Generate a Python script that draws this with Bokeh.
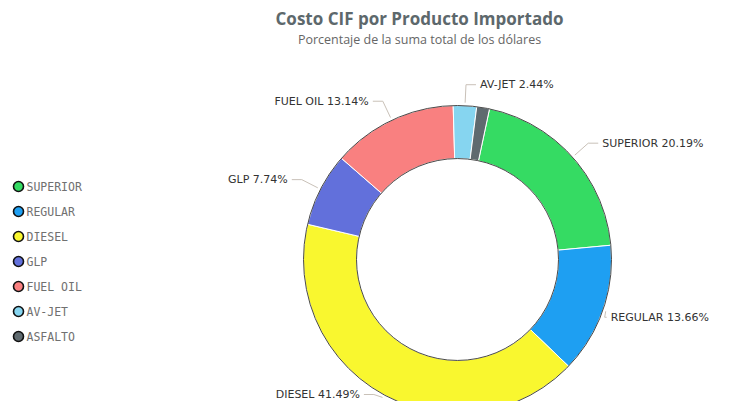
import math
from bokeh.plotting import figure
from bokeh.models import Range1d, ColumnDataSource
from bokeh.core.properties import value
from bokeh.embed import file_html
from bokeh.resources import INLINE

# ---- data ----
categories = ["SUPERIOR", "REGULAR", "DIESEL", "GLP", "FUEL OIL", "AV-JET", "ASFALTO"]
percentages = [20.19, 13.66, 41.49, 7.74, 13.14, 2.44, 1.34]
colors = ["#35db63", "#1e9ff2", "#f9f72f", "#6270db", "#f98080", "#86d5f0", "#5f6a6f"]
show_label = [True, True, True, True, True, True, False]
title_text = "Costo CIF por Producto Importado"
subtitle_text = "Porcentaje de la suma total de los dólares"

# ---- layout ----
W, H = 714, 401
CX, CY = 457, H - 259
R_OUT, R_IN = 154, 101
START_DEG = 12.0
R_CONN0, R_ELBOW = 157, 175
H_SEG, TXT_GAP = 10, 4
LABEL_MIN_Y = 7
CHAR_W = 7.2  # approx. width per char of 11px label font

p = figure(width=W, height=H, x_range=Range1d(0, W), y_range=Range1d(0, H),
           output_backend="svg", toolbar_location=None, min_border=0,
           x_axis_type=None, y_axis_type=None)
p.grid.visible = False
p.outline_line_color = None
p.background_fill_color = "white"
p.border_fill_color = "white"

total = sum(percentages)
starts, ends, mids = [], [], []
cum = START_DEG
for v in percentages:
    a0 = cum
    a1 = cum + v / total * 360.0
    starts.append(math.radians(90 - a0))
    ends.append(math.radians(90 - a1))
    mids.append((a0 + a1) / 2)
    cum = a1

src = ColumnDataSource(dict(x=[CX] * len(categories), y=[CY] * len(categories),
                            start=starts, end=ends, color=colors, name=categories))
p.annular_wedge(x="x", y="y", inner_radius=R_IN, outer_radius=R_OUT,
                start_angle="start", end_angle="end", direction="clock",
                fill_color="color", line_color="white", line_width=1, source=src)

# outlines
p.circle(x=[CX], y=[CY], radius=R_OUT, fill_color=None, line_color="#2a2a2a", line_width=1, line_alpha=0.85)
p.circle(x=[CX], y=[CY], radius=R_IN, fill_color=None, line_color="#2a2a2a", line_width=1, line_alpha=0.85)

# connectors and labels
xs, ys = [], []
lx_r, ly_r, lt_r = [], [], []
lx_l, ly_l, lt_l = [], [], []
for name, v, m, show in zip(categories, percentages, mids, show_label):
    if not show:
        continue
    dx, dy = math.sin(math.radians(m)), math.cos(math.radians(m))
    sx, sy = CX + R_CONN0 * dx, CY + R_CONN0 * dy
    ex, ey = CX + R_ELBOW * dx, CY + R_ELBOW * dy
    ey = max(ey, LABEL_MIN_Y)
    sign = 1 if dx >= 0 else -1
    hx = ex + sign * H_SEG
    label = f"{name} {v:.2f}%"
    if sign > 0:
        tx = hx + TXT_GAP
        est_w = len(label) * CHAR_W
        if tx + est_w > W - 3:
            tx = W - 3 - est_w
            hx = tx - TXT_GAP
            ex = min(ex, hx - 2)
        lx_r.append(tx); ly_r.append(ey); lt_r.append(label)
    else:
        lx_l.append(hx - TXT_GAP); ly_l.append(ey); lt_l.append(label)
    xs.append([sx, ex, hx])
    ys.append([sy, ey, ey])

p.multi_line(xs=xs, ys=ys, line_color="#c9c1b8", line_width=1)
lab_kw = dict(text_font=value("DejaVu Sans"), text_font_size="11px",
              text_color="#333333", text_baseline="middle")
p.text(x=lx_r, y=ly_r, text=lt_r, text_align="left", **lab_kw)
p.text(x=lx_l, y=ly_l, text=lt_l, text_align="right", **lab_kw)

# legend
LEG_X, LEG_Y0, LEG_DY = 18, H - 186, 25
leg_y = [LEG_Y0 - i * LEG_DY for i in range(len(categories))]
p.scatter(x=[LEG_X] * len(categories), y=leg_y, size=10, fill_color=colors,
          line_color="#111111", line_width=1.6)
p.text(x=[LEG_X + 8] * len(categories), y=leg_y, text=categories,
       text_font=value("DejaVu Sans Mono"), text_font_size="11.5px",
       text_color="#707070", text_baseline="middle", text_align="left")

# title / subtitle
TX = 419
p.text(x=[TX], y=[H - 18], text=[title_text], text_font=value("Open Sans"),
       text_font_size="17px", text_font_style="bold", text_color="#5d686c",
       text_align="center", text_baseline="middle")
p.text(x=[TX], y=[H - 39], text=[subtitle_text], text_font=value("Open Sans"),
       text_font_size="12.5px", text_color="#666666",
       text_align="center", text_baseline="middle")

open("out.html", "w").write(file_html(p, INLINE))
